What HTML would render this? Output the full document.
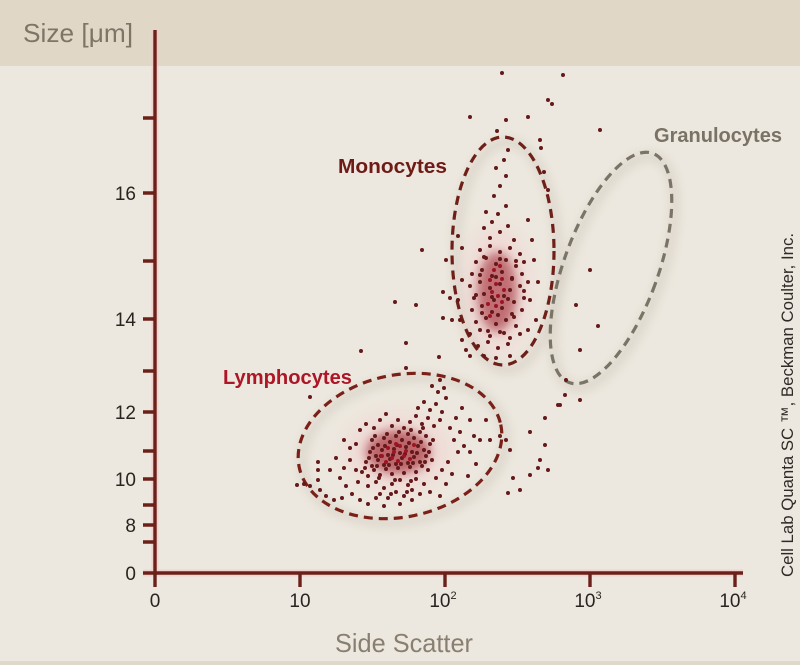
<!DOCTYPE html>
<html><head><meta charset="utf-8">
<style>
html,body{margin:0;padding:0;background:#ede8df;}
svg{display:block;}
text{font-family:"Liberation Sans",sans-serif;}
</style></head>
<body>
<svg width="800" height="665" viewBox="0 0 800 665" xmlns="http://www.w3.org/2000/svg">
<defs>
<filter id="bl" x="-30%" y="-30%" width="160%" height="160%"><feGaussianBlur stdDeviation="5"/></filter>
<filter id="bl2" x="-30%" y="-30%" width="160%" height="160%"><feGaussianBlur stdDeviation="8"/></filter>
</defs>
<rect x="0" y="0" width="800" height="665" fill="#ede8df"/>
<rect x="0" y="0" width="800" height="66" fill="#e0d7c7"/>
<rect x="0" y="661" width="800" height="4" fill="#e0d9cb"/>

<text x="23" y="42" font-size="26" fill="#7e7566" textLength="110" lengthAdjust="spacingAndGlyphs">Size [μm]</text>

<!-- shadows of gates -->
<g fill="none" stroke="#b8b0a2" stroke-width="6" opacity="0.45" filter="url(#bl)">
<ellipse cx="507" cy="256" rx="51" ry="114"/>
<ellipse cx="614" cy="272" rx="47" ry="122" transform="rotate(20 614 272)"/>
<ellipse cx="404" cy="450" rx="103" ry="71" transform="rotate(-12 404 450)"/>
</g>

<!-- axes -->
<g stroke="#f2c4c4" stroke-width="7" opacity="0.6">
<line x1="155" y1="30" x2="155" y2="575"/>
<line x1="143" y1="573" x2="743" y2="573"/>
</g>
<g stroke="#6b2119" stroke-width="3.4" fill="none">
<line x1="155" y1="30" x2="155" y2="575"/>
<line x1="143" y1="573" x2="743" y2="573"/>
<path d="M143 118H155M143 193H155M143 261H155M143 319H155M143 371H155M143 412H155M143 451H155M143 479H155M143 505H155M143 525H155M143 542H155"/>
<path d="M155 573V587M300 573V587M445 573V587M590 573V587M735 573V587"/>
</g>

<g font-size="19" fill="#2a2420" text-anchor="end">
<text x="136" y="200">16</text>
<text x="136" y="326">14</text>
<text x="136" y="419">12</text>
<text x="136" y="486">10</text>
<text x="136" y="532">8</text>
<text x="136" y="580">0</text>
</g>
<g font-size="19" fill="#2a2420" text-anchor="middle">
<text x="155" y="607">0</text>
<text x="300" y="607">10</text>
<text x="443" y="607">10<tspan font-size="11" dy="-8">2</tspan></text>
<text x="588" y="607">10<tspan font-size="11" dy="-8">3</tspan></text>
<text x="733" y="607">10<tspan font-size="11" dy="-8">4</tspan></text>
</g>
<text x="335" y="652" font-size="26" fill="#887f70" textLength="138" lengthAdjust="spacingAndGlyphs">Side Scatter</text>

<text transform="translate(793 577) rotate(-90)" font-size="17" fill="#2e2a26" textLength="344" lengthAdjust="spacingAndGlyphs">Cell Lab Quanta SC ™, Beckman Coulter, Inc.</text>

<!-- labels -->
<text x="338" y="173" font-size="20" font-weight="bold" fill="#6e1a16" textLength="109" lengthAdjust="spacingAndGlyphs">Monocytes</text>
<text x="223" y="384" font-size="20" font-weight="bold" fill="#ad1626" textLength="129" lengthAdjust="spacingAndGlyphs">Lymphocytes</text>
<text x="654" y="142" font-size="20" font-weight="bold" fill="#7a7264" textLength="128" lengthAdjust="spacingAndGlyphs">Granulocytes</text>

<!-- dense cores -->
<ellipse cx="398" cy="452" rx="55" ry="40" fill="#f4c4c8" opacity="0.35" filter="url(#bl2)"/>
<ellipse cx="497" cy="290" rx="35" ry="65" fill="#f4c4c8" opacity="0.35" filter="url(#bl2)"/>
<ellipse cx="398" cy="452" rx="32" ry="22" fill="#9a1224" opacity="0.6" filter="url(#bl)"/>
<ellipse cx="497" cy="292" rx="20" ry="40" fill="#9a1224" opacity="0.55" filter="url(#bl)"/>

<!-- gates -->
<g fill="none" stroke-width="3.2" stroke-dasharray="9 6">
<ellipse cx="503" cy="251" rx="51" ry="114" stroke="#6e2018"/>
<ellipse cx="611" cy="268" rx="47" ry="122" transform="rotate(20 611 268)" stroke="#7a7466"/>
<ellipse cx="400" cy="446" rx="103" ry="71" transform="rotate(-12 400 446)" stroke="#7a2018"/>
</g>

<!-- dots: scattered/general -->
<path fill="none" stroke="#64191a" stroke-width="4" stroke-linecap="round" d="
M392 426h0M398 420h0M404 428h0M410 422h0M416 416h0M422 424h0M428 418h0M434 426h0M440 420h0
M418 408h0M424 402h0M430 410h0M436 404h0M442 412h0M446 398h0M438 392h0M432 386h0M440 380h0M444 388h0
M450 428h0M454 440h0M458 452h0M448 462h0M452 474h0M446 484h0M440 496h0M460 432h0M464 446h0M456 418h0M462 408h0
M350 460h0M344 468h0M340 478h0M346 486h0M352 494h0M356 470h0M358 482h0M336 458h0M330 470h0
M318 480h0M310 486h0M320 490h0M304 484h0M318 462h0M318 470h0M326 496h0M334 500h0M342 498h0
M360 500h0M368 504h0M376 498h0M384 506h0M400 504h0M412 500h0M430 492h0M436 478h0M442 470h0
M360 430h0M366 424h0M374 428h0M380 420h0M386 414h0M356 444h0M350 448h0M344 440h0
M470 420h0M474 436h0M470 452h0M476 464h0M468 476h0M480 440h0M486 420h0M490 440h0
M500 436h0M506 440h0M510 450h0M297 485h0M310 397h0
M513 478h0M520 490h0M508 493h0M530 475h0M540 460h0M545 445h0M530 432h0M545 418h0M560 405h0M565 395h0M548 470h0M538 468h0
M484 228h0M492 222h0M500 232h0M508 226h0M490 238h0M514 240h0M498 214h0M486 212h0M506 206h0
M494 196h0M500 186h0M506 176h0M496 168h0M504 160h0M508 150h0
M528 220h0M532 240h0M534 260h0M530 300h0M538 282h0M536 320h0M528 330h0
M462 280h0M458 300h0M460 320h0M462 340h0M466 350h0M470 356h0M484 356h0M496 358h0M510 356h0
M450 298h0M452 320h0M446 260h0M462 248h0M458 236h0
M422 250h0M395 302h0M416 305h0M443 318h0M443 292h0M406 343h0M361 351h0M406 368h0M439 357h0
M502 73h0M563 75h0M470 117h0M528 117h0M497 131h0M506 120h0M548 100h0M552 104h0M600 130h0M540 140h0M541 148h0M544 172h0M548 190h0
M590 270h0M576 305h0M598 326h0M580 350h0M566 380h0M580 400h0M558 405h0
"/>
<!-- lymph core dots -->
<g fill="none" stroke="#64191a" stroke-width="4" stroke-linecap="round">
<path id="ly" d="
M372 440h0M378 445h0M384 438h0M390 442h0M396 436h0M402 440h0M408 434h0M414 438h0M420 432h0M426 436h0
M370 452h0M376 456h0M382 450h0M388 455h0M394 449h0M400 453h0M406 447h0M412 452h0M418 446h0M424 450h0M430 444h0
M366 462h0M372 466h0M378 460h0M384 465h0M390 459h0M396 464h0M402 458h0M408 463h0M414 457h0M420 462h0M426 456h0M432 460h0
M362 472h0M368 476h0M374 470h0M380 475h0M386 469h0M392 474h0M398 468h0M404 473h0M410 467h0M416 472h0M422 466h0M428 470h0
M368 486h0M376 482h0M384 488h0M392 484h0M400 480h0M408 485h0M416 479h0M424 484h0
M380 494h0M388 498h0M396 492h0M404 496h0M412 490h0M420 494h0"/>
<path transform="translate(3 -4)" d="
M372 440h0M384 438h0M396 436h0M408 434h0M420 432h0
M370 452h0M382 450h0M394 449h0M406 447h0M418 446h0M430 444h0
M366 462h0M378 460h0M390 459h0M402 458h0M414 457h0M426 456h0
M362 472h0M374 470h0M386 469h0M398 468h0M410 467h0M422 466h0
M376 482h0M392 484h0M408 485h0M388 498h0M404 496h0"/>
<!-- mono core dots -->
<path d="
M480 250h0M490 246h0M500 252h0M510 248h0M520 254h0
M476 262h0M486 258h0M496 264h0M506 260h0M516 266h0M524 262h0
M472 274h0M482 270h0M492 276h0M502 272h0M512 278h0M522 274h0
M470 286h0M480 282h0M490 288h0M500 284h0M510 290h0M520 286h0M528 282h0
M474 298h0M484 294h0M494 300h0M504 296h0M514 302h0M524 298h0
M472 310h0M482 306h0M492 312h0M502 308h0M512 314h0M522 310h0
M476 322h0M486 318h0M496 324h0M506 320h0M516 326h0
M470 334h0M480 330h0M490 336h0M500 332h0M510 338h0M520 334h0
M478 346h0M488 342h0M498 348h0M508 344h0"/>
<path transform="translate(4 -5)" d="
M480 262h0M496 264h0M512 266h0M476 280h0M492 282h0M508 284h0M520 296h0
M472 300h0M488 302h0M504 304h0M478 318h0M494 320h0M510 322h0M484 336h0M500 338h0"/>
</g>
<path fill="none" stroke="#9c1524" stroke-width="4" stroke-linecap="round" d="
M388 448h0M394 452h0M400 446h0M406 451h0M392 458h0M398 461h0M404 456h0M410 459h0M386 462h0M382 456h0M414 445h0M396 444h0
M490 280h0M496 284h0M502 279h0M492 292h0M498 296h0M504 290h0M488 304h0M496 306h0M502 302h0M494 270h0M500 266h0M490 316h0
"/>
</svg>
</body></html>
